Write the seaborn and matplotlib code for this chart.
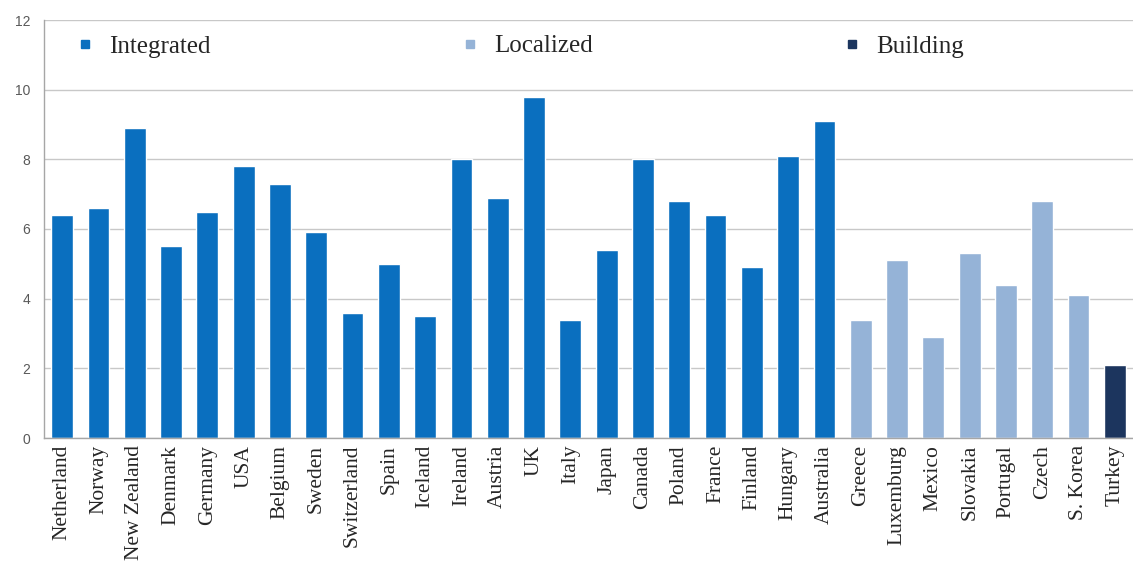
import matplotlib
matplotlib.use("Agg")
import matplotlib.pyplot as plt
from matplotlib.lines import Line2D
import seaborn as sns
import pandas as pd

countries = ["Netherland", "Norway", "New Zealand", "Denmark", "Germany", "USA",
             "Belgium", "Sweden", "Switzerland", "Spain", "Iceland", "Ireland",
             "Austria", "UK", "Italy", "Japan", "Canada", "Poland", "France",
             "Finland", "Hungary", "Australia", "Greece", "Luxemburg", "Mexico",
             "Slovakia", "Portugal", "Czech", "S. Korea", "Turkey"]
values = [6.4, 6.6, 8.9, 5.5, 6.5, 7.8, 7.3, 5.9, 3.6, 5.0, 3.5, 8.0, 6.9, 9.8,
          3.4, 5.4, 8.0, 6.8, 6.4, 4.9, 8.1, 9.1, 3.4, 5.1, 2.9, 5.3, 4.4, 6.8,
          4.1, 2.1]
groups = ["Integrated"] * 22 + ["Localized"] * 7 + ["Building"]
group_names = ["Integrated", "Localized", "Building"]
group_colors = ["#0A6FBF", "#95B3D7", "#1C355E"]

df = pd.DataFrame({"country": countries, "value": values, "group": groups})

sns.set_style("white")
serif = ["Liberation Serif", "DejaVu Serif"]

fig = plt.figure(figsize=(11.33, 5.63), dpi=100)
ax = fig.add_axes([44 / 1133, 1 - 438 / 563, 1089 / 1133, 418 / 563])

palette = dict(zip(group_names, group_colors))
sns.barplot(data=df, x="country", y="value", hue="group", hue_order=group_names,
            palette=palette, dodge=False, width=0.6, saturation=1,
            legend=False, ax=ax)

ax.set_ylim(0, 12)
ax.set_xlim(-0.5, 29.36)
ax.set_yticks(range(0, 13, 2))
ax.set_xlabel("")
ax.set_ylabel("")

# horizontal gridlines
ax.yaxis.grid(True, color="#C8C8C8", linewidth=1.0)
ax.set_axisbelow(True)

for side in ["top", "right"]:
    ax.spines[side].set_visible(False)
for side in ["left", "bottom"]:
    ax.spines[side].set_color("#A6A6A6")
    ax.spines[side].set_linewidth(1.0)

# y tick labels in small grey sans
ax.tick_params(axis="y", which="major", length=4, color="#A6A6A6",
               labelsize=10, labelcolor="#595959", pad=6)
for lab in ax.get_yticklabels():
    lab.set_fontfamily("Liberation Sans")

# category labels rotated, tick marks between categories
ax.set_xticks(range(len(countries)))
ax.set_xticklabels(countries, rotation=90, fontsize=15.5, fontfamily=serif)
ax.tick_params(axis="x", which="major", length=0, pad=5)
ax.set_xticks([i + 0.5 for i in range(-1, len(countries))], minor=True)
ax.tick_params(axis="x", which="minor", length=5, color="#A6A6A6")

handles = [Line2D([0], [0], marker="s", linestyle="", markersize=6,
                  markerfacecolor=c, markeredgecolor=c) for c in group_colors]
ax.legend(handles, group_names, ncol=3, loc="upper left",
          bbox_to_anchor=(0.012, 1.0, 0.847, 0.0), mode="expand",
          frameon=False, prop={"family": serif, "size": 18},
          handletextpad=0.5, borderaxespad=0.2, handlelength=1.0)

fig.savefig("out.png", dpi=100)
